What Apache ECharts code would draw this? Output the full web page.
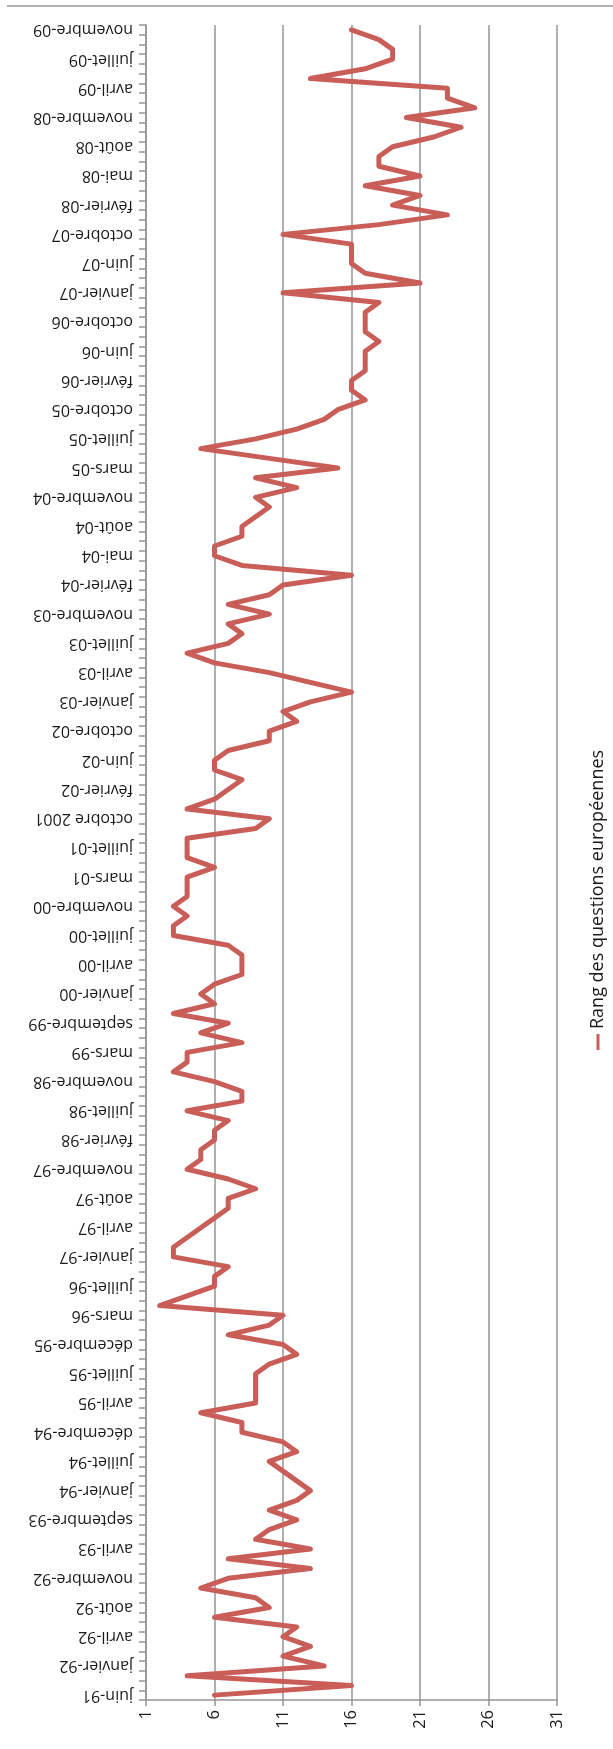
<!DOCTYPE html>
<html>
<head>
<meta charset="utf-8">
<script src="https://cdn.jsdelivr.net/npm/echarts@6/dist/echarts.min.js"></script>
<style>
  html, body { margin: 0; padding: 0; background: #fff; }
  #chart { width: 613px; height: 1749px; }
</style>
</head>
<body>
<div id="chart"></div>
<script>
// Visible category labels (every third survey), bottom to top
const tickLabels = [
  'juin-91','janvier-92','avril-92','août-92','novembre-92','avril-93','septembre-93',
  'janvier-94','juillet-94','décembre-94','avril-95','juillet-95','décembre-95','mars-96',
  'juillet-96','janvier-97','avril-97','août-97','novembre-97','février-98','juillet-98',
  'novembre-98','mars-99','septembre-99','janvier-00','avril-00','juillet-00','novembre-00',
  'mars-01','juillet-01','octobre 2001','février-02','juin-02','octobre-02','janvier-03',
  'avril-03','juillet-03','novembre-03','février-04','mai-04','août-04','novembre-04',
  'mars-05','juillet-05','octobre-05','février-06','juin-06','octobre-06','janvier-07',
  'juin-07','octobre-07','février-08','mai-08','août-08','novembre-08','avril-09',
  'juillet-09','novembre-09'
];

// Rank of European questions, one value per survey (172 surveys)
const rank = [
  6,16,4,14,11,13,11,12,6,10,
  9,5,7,13,7,13,9,10,12,10,
  12,13,12,11,10,12,11,8,8,5,
  9,9,9,9,10,12,11,7,10,11,
  2,4,6,6,7,3,3,4,5,6,
  7,7,9,7,4,5,5,6,6,7,
  4,8,8,6,3,4,4,8,5,7,
  3,6,5,6,8,8,8,7,3,3,
  4,3,4,4,4,6,4,4,4,9,
  10,4,6,7,8,6,6,7,10,10,
  12,11,13,16,13,10,6,4,7,8,
  7,10,7,10,11,16,8,6,6,8,
  8,9,10,9,12,9,15,10,5,9,
  12,14,15,17,16,16,17,17,17,18,
  17,17,17,18,11,21,17,16,16,16,
  11,18,23,19,21,17,21,18,18,19,
  22,24,20,25,23,23,13,17,19,19,
  18,16
];

const seriesName = 'Rang des questions européennes';
const valueTicks = { min: 1, max: 31, step: 5 };

// Category list: each visible label followed by two unlabeled surveys
const categories = [];
tickLabels.forEach((l, k) => {
  categories.push(l);
  if (k < tickLabels.length - 1) { categories.push(''); categories.push(''); }
});

const chart = echarts.init(document.getElementById('chart'), null, { renderer: 'canvas' });
const gray = '#959595';
const textColor = '#1a1a1a';
const font = 'Open Sans';
const lineColor = '#C95E59';

chart.setOption({
  animation: false,
  backgroundColor: '#ffffff',
  grid: { left: 146, right: 56, top: 25, bottom: 49, containLabel: false },
  xAxis: {
    type: 'value',
    min: valueTicks.min, max: valueTicks.max, interval: valueTicks.step,
    axisLine: { show: true, lineStyle: { color: gray, width: 1.5 } },
    axisTick: { show: true, length: 6, lineStyle: { color: gray, width: 1.5 } },
    splitLine: { show: true, lineStyle: { color: gray, width: 1.5 } },
    axisLabel: { rotate: 90, fontSize: 16.5, color: textColor, margin: 10, fontFamily: font }
  },
  yAxis: {
    type: 'category',
    data: categories,
    boundaryGap: true,
    axisLine: { show: true, lineStyle: { color: gray, width: 1.5 } },
    axisTick: { show: true, interval: 0, length: 7, lineStyle: { color: gray, width: 1.5 } },
    splitLine: { show: false },
    axisLabel: { interval: 2, rotate: 180, fontSize: 16, color: textColor, margin: 13, fontFamily: font }
  },
  series: [{
    name: seriesName,
    type: 'line',
    data: rank,
    showSymbol: false,
    symbol: 'none',
    lineStyle: { color: lineColor, width: 5, join: 'round', cap: 'round' },
    itemStyle: { color: lineColor }
  }],
  graphic: [
    { type: 'line', shape: { x1: 7, y1: 6, x2: 613, y2: 6 }, style: { stroke: '#9a9a9a', lineWidth: 1.5 } },
    {
      type: 'group', x: 598, y: 1050, rotation: Math.PI / 2,
      children: [
        { type: 'line', shape: { x1: 0, y1: 0, x2: 16, y2: 0 }, style: { stroke: lineColor, lineWidth: 3 } },
        { type: 'text', x: 21, y: 0, style: { text: seriesName, font: '18px "Open Sans"', fill: textColor, verticalAlign: 'middle' } }
      ]
    }
  ]
});
</script>
</body>
</html>
